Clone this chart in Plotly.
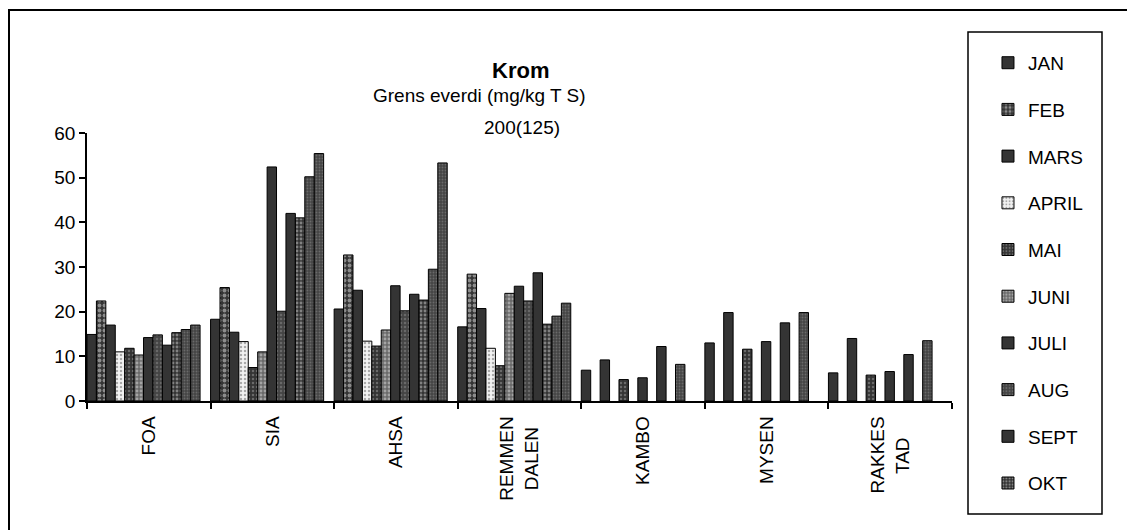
import plotly.graph_objects as go

sites = ["FOA", "SIA", "AHSA", "REMMEN DALEN", "KAMBO", "MYSEN", "RAKKESTAD"]
# tick labels (two-line labels are centred along their length, like the original)
site_labels = ["FOA", "SIA", "AHSA", "REMMEN<br>DALEN&nbsp;&nbsp;",
               "KAMBO", "MYSEN", "RAKKES<br>TAD&nbsp;&nbsp;&nbsp;&nbsp;"]
months = ["JAN", "FEB", "MARS", "APRIL", "MAI", "JUNI", "JULI", "AUG", "SEPT", "OKT", "NOV", "DES"]

# Krom (mg/kg TS) per site, one list per month (None = no sample)
jan = [14.9, 18.3, 20.6, 16.6, 6.9, 13.0, 6.3]
feb = [22.4, 25.4, 32.7, 28.4, None, None, None]
mars = [17.0, 15.4, 24.8, 20.7, 9.2, 19.8, 14.0]
april = [11.0, 13.3, 13.4, 11.8, None, None, None]
mai = [11.8, 7.5, 12.3, 7.9, 4.8, 11.6, 5.8]
juni = [10.3, 11.0, 15.9, 24.1, None, None, None]
juli = [14.2, 52.4, 25.8, 25.7, 5.2, 13.3, 6.6]
aug = [14.8, 20.1, 20.2, 22.4, None, None, None]
sept = [12.5, 42.0, 23.9, 28.7, 12.2, 17.5, 10.4]
okt = [15.3, 41.0, 22.6, 17.2, None, None, None]
nov = [16.0, 50.2, 29.5, 19.0, 8.2, 19.8, 13.5]
des = [17.0, 55.4, 53.3, 21.9, None, None, None]

series = [jan, feb, mars, april, mai, juni, juli, aug, sept, okt, nov, des]
y_ticks = [0, 10, 20, 30, 40, 50, 60]

DARK = "#343434"
styles = [
    dict(color=DARK),
    dict(color=DARK, pattern=dict(shape=".", fgcolor="#e6e6e6", bgcolor=DARK, size=5, solidity=0.45)),
    dict(color=DARK),
    dict(color="#f2f2f2", pattern=dict(shape=".", fgcolor="#606060", bgcolor="#f2f2f2", size=4, solidity=0.3)),
    dict(color=DARK, pattern=dict(shape=".", fgcolor="#a0a0a0", bgcolor=DARK, size=4, solidity=0.3)),
    dict(color="#8a8a8a", pattern=dict(shape=".", fgcolor="#dddddd", bgcolor="#6a6a6a", size=4, solidity=0.4)),
    dict(color=DARK),
    dict(color="#444444", pattern=dict(shape=".", fgcolor="#8c8c8c", bgcolor="#444444", size=4, solidity=0.3)),
    dict(color=DARK),
    dict(color=DARK, pattern=dict(shape=".", fgcolor="#d0d0d0", bgcolor=DARK, size=4, solidity=0.4)),
    dict(color="#444444", pattern=dict(shape=".", fgcolor="#909090", bgcolor="#444444", size=3, solidity=0.3)),
    dict(color="#444444", pattern=dict(shape=".", fgcolor="#909090", bgcolor="#444444", size=3, solidity=0.3)),
]

FONT = "Liberation Sans"
n = len(months)
w = 0.915 / n

fig = go.Figure()
for i, (m, vals, st) in enumerate(zip(months, series, styles)):
    marker = dict(line=dict(color="black", width=1), **st)
    fig.add_trace(go.Bar(
        x=sites, y=vals, name=m, marker=marker,
        width=w, offset=-0.5 + i * w,
        legendgroup=m, showlegend=(i < 10),
    ))

fig.update_layout(
    width=1127, height=530,
    margin=dict(l=87, r=175, t=133, b=129),
    paper_bgcolor="white", plot_bgcolor="white",
    barmode="overlay",
    font=dict(family=FONT, size=19, color="black"),
    showlegend=True,
    legend=dict(
        x=1.0416, y=1.3326, xanchor="left", yanchor="top",
        font=dict(family=FONT, size=19, color="black"),
        tracegroupgap=19, traceorder="grouped",
        bgcolor="rgba(0,0,0,0)", borderwidth=0, maxheight=520,
    ),
    xaxis=dict(
        type="category", tickson="boundaries", ticks="outside", ticklen=6,
        tickwidth=1.5, tickcolor="black",
        tickvals=sites, ticktext=site_labels, ticklabelstandoff=6,
        showline=True, linecolor="black", linewidth=1.5,
        tickangle=-90, showgrid=False, range=[-0.5, 6.5],
        tickfont=dict(family=FONT, size=19),
    ),
    yaxis=dict(
        range=[0, 60], tickvals=y_ticks, ticks="outside", ticklen=6,
        tickwidth=1.5, tickcolor="black",
        showline=True, linecolor="black", linewidth=1.5, showgrid=False,
        zeroline=False, tickfont=dict(family=FONT, size=19),
    ),
    annotations=[
        dict(text="<b>Krom</b>", x=0.5006, y=1.2332, xref="paper", yref="paper",
             xanchor="center", yanchor="middle",
             showarrow=False, font=dict(family=FONT, size=22)),
        dict(text="Grens everdi (mg/kg T S)", x=0.4532, y=1.1399, xref="paper", yref="paper",
             xanchor="center", yanchor="middle",
             showarrow=False, font=dict(family=FONT, size=19)),
        dict(text="200(125)", x=0.503, y=1.0187, xref="paper", yref="paper",
             xanchor="center", yanchor="middle",
             showarrow=False, font=dict(family=FONT, size=19)),
    ],
    shapes=[
        dict(type="rect", xref="paper", yref="paper",
             x0=(9 - 87) / 865, x1=(1150 - 87) / 865,
             y0=(401 - 560) / 268, y1=(401 - 10) / 268,
             line=dict(color="black", width=2), fillcolor="rgba(0,0,0,0)"),
        dict(type="rect", xref="paper", yref="paper",
             x0=(968 - 87) / 865, x1=(1102 - 87) / 865,
             y0=(401 - 514) / 268, y1=(401 - 32) / 268,
             line=dict(color="black", width=1.5), fillcolor="rgba(0,0,0,0)"),
    ],
)

fig.write_html("out.html")
